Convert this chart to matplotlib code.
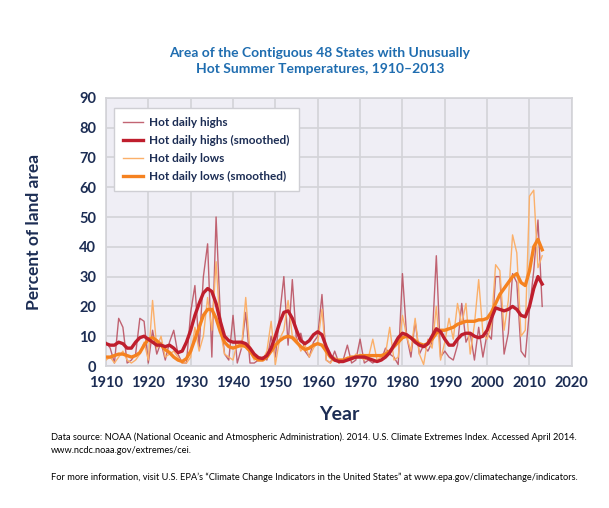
import numpy as np
import matplotlib
matplotlib.use("Agg")
import matplotlib.pyplot as plt

# --- DATA ---
years = list(range(1910, 2014))

hot_highs = [
    8, 6, 1, 16, 13, 1, 2, 4, 16, 15,          # 1910s
    1, 12, 4, 8, 2, 8, 12, 4, 1, 1,            # 1920s
    18, 27, 6, 30, 41, 3, 50, 17, 4, 2,        # 1930s
    17, 1, 6, 18, 1, 1, 2, 3, 2, 10,           # 1940s
    3, 17, 30, 7, 29, 8, 11, 5, 3, 8,          # 1950s
    10, 24, 2, 1, 5, 1, 2, 7, 1, 2,            # 1960s
    9, 1, 2, 1, 2, 2, 6, 4, 3, 0.5,            # 1970s
    31, 10, 3, 15, 4, 7, 5, 8, 37, 3,          # 1980s
    5, 3, 2, 7, 21, 8, 11, 2, 13, 3,           # 1990s
    11, 9, 30, 30, 4, 11, 31, 28, 5, 3,        # 2000s
    19, 32, 49, 20,                            # 2010-2013
]

hot_highs_smoothed = [
    7.5, 7, 7, 8, 7.5, 6, 6, 8, 9.5, 10,
    9, 8, 7, 7, 6.5, 7, 6, 4.5, 5, 8,
    12, 17, 21, 24.5, 26, 25, 21, 15, 10, 8.5,
    8, 8, 8, 7.5, 6, 4, 2.8, 2.5, 3.5, 6,
    10, 14.5, 18, 18.5, 16, 12, 8.5, 7.5, 8.5, 10.5,
    11.5, 10.5, 6.5, 3.5, 2, 1.5, 1.5, 2, 2.5, 3,
    3, 3, 2.5, 2, 1.5, 2, 3, 4.5, 7, 9.5,
    11, 10.5, 9.5, 8, 7, 6.5, 7.5, 10, 12.5, 11.5,
    9, 7, 7, 9, 10.5, 11, 11, 10, 9.5, 10,
    12, 16, 19.5, 19, 18.5, 19, 20, 19, 17, 16.5,
    20, 26, 30, 27.5,
]

hot_lows = [
    2, 3, 1, 3, 5, 2, 1, 2, 4, 8,
    2, 22, 6, 10, 3, 4, 5, 3, 1, 1,
    3, 13, 5, 10, 23, 12, 35, 12, 4, 3,
    2, 8, 6, 23, 5, 2, 3, 2, 5, 15,
    0.5, 9, 12, 22, 10, 9, 5, 7, 3, 6,
    8, 19, 2, 1, 3, 1, 2, 3, 2, 4,
    3, 2, 3, 9, 2, 3, 4, 13, 2, 3,
    17, 10, 5, 16, 4, 0.5, 9, 6, 20, 2,
    8, 16, 9, 21, 14, 21, 4, 14, 29, 11,
    9, 14, 34, 32, 12, 22, 44, 38, 10, 12,
    57, 59, 33, 37,
]

hot_lows_smoothed = [
    3, 3, 3.5, 4, 4, 3.5, 3, 3.5, 4.5, 7,
    9, 9.5, 8.5, 7, 5.5, 4.5, 3, 2, 1.5, 2.5,
    5, 9, 13, 17, 19, 19, 16, 11.5, 8, 6.5,
    6, 6.5, 7, 6.5, 5, 3, 2, 2, 3, 5,
    7, 8.5, 9.5, 10, 9.5, 8, 6.5, 5.5, 6, 7,
    7.5, 7, 5, 3, 2, 2, 2, 2.5, 3, 3,
    3.5, 3.5, 3.5, 3.5, 3.5, 3.5, 4, 5, 6.5, 8,
    9.5, 10, 9.5, 8.5, 7.5, 7, 7.5, 9, 11, 12,
    12, 12.5, 13, 14, 14.5, 15, 15, 15, 15.5, 15.5,
    16, 18, 21, 24, 26, 28, 30, 31, 28, 27,
    32, 40, 42.5, 39,
]

x_ticks = list(range(1910, 2021, 10))
y_ticks = list(range(0, 91, 10))

# --- STYLE ---
NAVY = "#1c2d54"
TITLE_BLUE = "#1f6db0"
plt.rcParams["font.family"] = ["Lato", "DejaVu Sans"]

fig = plt.figure(figsize=(6.09, 5.08), dpi=100)
ax = fig.add_axes([0.174, 0.2795, 0.765, 0.528])
ax.set_facecolor("#efeef5")

ax.plot(years, hot_highs, color="#b84a5a", linewidth=1.0, alpha=0.85,
        label="Hot daily highs", zorder=3)
ax.plot(years, hot_lows, color="#fbb06a", linewidth=1.0,
        label="Hot daily lows", zorder=3)
ax.plot(years, hot_lows_smoothed, color="#f58220", linewidth=2.4,
        label="Hot daily lows (smoothed)", zorder=4)
ax.plot(years, hot_highs_smoothed, color="#bf1e2d", linewidth=2.4,
        label="Hot daily highs (smoothed)", zorder=5)

ax.set_xlim(1910, 2020)
ax.set_ylim(0, 90)
ax.set_xticks(x_ticks)
ax.set_yticks(y_ticks)
ax.grid(True, color="#d3d3d8", linewidth=1.2, zorder=0)
ax.set_axisbelow(True)
for s in ax.spines.values():
    s.set_color("#d3d3d8")
    s.set_linewidth(1.2)
ax.tick_params(length=0, labelsize=10.5, labelcolor=NAVY, pad=7)
for lbl in ax.get_xticklabels() + ax.get_yticklabels():
    lbl.set_fontweight("bold")

ax.set_xlabel("Year", fontsize=14, fontweight="bold", color=NAVY, labelpad=12)
ax.set_ylabel("Percent of land area", fontsize=12.5, fontweight="bold",
              color=NAVY, labelpad=27)

# legend order as in the reference
h, l = ax.get_legend_handles_labels()
order = [0, 3, 1, 2]
leg = ax.legend([h[i] for i in order], [l[i] for i in order],
                loc="upper left", bbox_to_anchor=(0.017, 0.963),
                borderaxespad=0, frameon=True, fancybox=False,
                edgecolor="#cfcfd4", facecolor="white", framealpha=1,
                handlelength=1.7, handletextpad=0.5,
                borderpad=0.8, labelspacing=0.58,
                prop={"weight": "bold", "size": 8.5})
for t in leg.get_texts():
    t.set_color(NAVY)

fig.text(0.525, 0.88,
         "Area of the Contiguous 48 States with Unusually\nHot Summer Temperatures, 1910\u20132013",
         ha="center", va="center", fontsize=10, fontweight="bold",
         color=TITLE_BLUE, linespacing=1.35)

fig.text(0.084, 0.126,
         "Data source: NOAA (National Oceanic and Atmospheric Administration). 2014. U.S. Climate Extremes Index. Accessed April 2014.\nwww.ncdc.noaa.gov/extremes/cei.",
         ha="left", va="center", fontsize=6.7, color="black", linespacing=1.55)
fig.text(0.084, 0.061,
         "For more information, visit U.S. EPA\u2019s \u201cClimate Change Indicators in the United States\u201d at www.epa.gov/climatechange/indicators.",
         ha="left", va="center", fontsize=6.7, color="black")

fig.savefig("out.png", dpi=100)
